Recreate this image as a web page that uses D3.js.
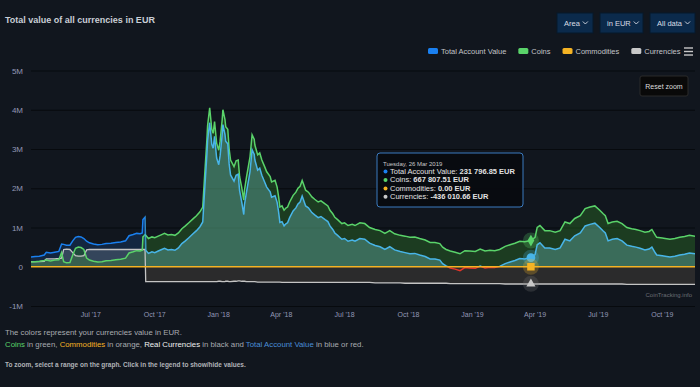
<!DOCTYPE html>
<html>
<head>
<meta charset="utf-8">
<script src="https://d3js.org/d3.v7.min.js"></script>
<style>
  body { margin: 0; background: #11161e; }
  svg { display: block; font-family: "Liberation Sans", Arial, sans-serif; }
</style>
</head>
<body>
<div id="chart"></div>
<script>
// ---- data (values in millions of EUR) ----
var dates = [
  "2017-04-06","2017-04-12","2017-04-18","2017-04-25","2017-04-28","2017-05-04","2017-05-10","2017-05-16","2017-05-20","2017-05-23",
  "2017-05-27","2017-06-01","2017-06-05","2017-06-09","2017-06-13","2017-06-17","2017-06-21","2017-06-25","2017-06-29","2017-07-05",
  "2017-07-11","2017-07-17","2017-07-23","2017-07-30","2017-08-06","2017-08-13","2017-08-20","2017-08-25","2017-08-31","2017-09-05",
  "2017-09-10","2017-09-13","2017-09-14","2017-09-15","2017-09-17","2017-09-18","2017-09-22","2017-09-27","2017-10-01","2017-10-06",
  "2017-10-11","2017-10-15","2017-10-20","2017-10-25","2017-10-30","2017-11-04","2017-11-09","2017-11-14","2017-11-19","2017-11-25",
  "2017-11-30","2017-12-05","2017-12-09","2017-12-12","2017-12-15","2017-12-16","2017-12-19","2017-12-22","2017-12-24","2017-12-26",
  "2017-12-29","2018-01-01","2018-01-03","2018-01-06","2018-01-07","2018-01-10","2018-01-11","2018-01-14","2018-01-16","2018-01-18",
  "2018-01-23","2018-01-26","2018-01-29","2018-01-31","2018-02-03","2018-02-06","2018-02-07","2018-02-10","2018-02-15","2018-02-18",
  "2018-02-21","2018-02-22","2018-02-26","2018-03-01","2018-03-04","2018-03-08","2018-03-11","2018-03-16","2018-03-18","2018-03-23",
  "2018-03-26","2018-03-28","2018-03-30","2018-04-02","2018-04-05","2018-04-08","2018-04-10","2018-04-13","2018-04-18","2018-04-22",
  "2018-04-25","2018-04-28","2018-05-01","2018-05-03","2018-05-06","2018-05-10","2018-05-15","2018-05-19","2018-05-24","2018-05-28",
  "2018-06-03","2018-06-07","2018-06-10","2018-06-14","2018-06-17","2018-06-21","2018-06-27","2018-07-01","2018-07-06","2018-07-12",
  "2018-07-16","2018-07-23","2018-07-30","2018-08-06","2018-08-14","2018-08-21","2018-08-28","2018-09-04","2018-09-11","2018-09-19",
  "2018-09-26","2018-10-03","2018-10-10","2018-10-17","2018-10-25","2018-11-01","2018-11-08","2018-11-15","2018-11-19","2018-11-24",
  "2018-11-30","2018-12-07","2018-12-14","2018-12-21","2018-12-28","2019-01-05","2019-01-12","2019-01-19","2019-01-26","2019-02-02",
  "2019-02-09","2019-02-17","2019-02-24","2019-03-03","2019-03-10","2019-03-17","2019-03-26","2019-04-01","2019-04-04","2019-04-08",
  "2019-04-15","2019-04-22","2019-04-30","2019-05-07","2019-05-14","2019-05-21","2019-05-28","2019-06-05","2019-06-12","2019-06-19",
  "2019-06-26","2019-07-03","2019-07-08","2019-07-11","2019-07-15","2019-07-21","2019-07-28","2019-08-04","2019-08-11","2019-08-18",
  "2019-08-24","2019-08-30","2019-09-06","2019-09-12","2019-09-16","2019-09-21","2019-09-23","2019-10-01","2019-10-05","2019-10-12",
  "2019-10-19","2019-10-26","2019-11-02","2019-11-09","2019-11-17"
];

var coins = [
  .12,.13,.14,.16,.17,.15,.17,.18,.36,.13,
  .10,.11,.30,.47,.50,.49,.44,.22,.17,.14,
  .12,.13,.15,.16,.18,.19,.22,.35,.38,.41,
  .40,.42,.76,.78,.82,.80,.72,.76,.74,.78,
  .82,.85,.81,.82,.80,.86,.97,1.04,1.12,1.22,
  1.30,1.40,1.52,2.40,3.25,3.60,4.05,3.50,3.40,3.70,
  3.15,2.97,3.20,3.75,4.00,3.75,3.57,3.50,3.00,2.72,
  2.55,2.70,2.72,2.30,2.03,1.70,1.95,2.29,2.80,3.36,
  3.25,3.10,2.85,2.90,2.72,2.55,2.42,2.30,2.16,2.20,
  2.03,1.80,1.52,1.55,1.44,1.50,1.52,1.65,1.82,1.90,
  2.00,2.05,2.20,2.10,1.95,1.90,1.78,1.72,1.65,1.68,
  1.60,1.55,1.44,1.35,1.26,1.20,1.10,1.12,1.05,1.08,
  1.05,1.12,1.10,1.00,.95,.92,.85,.92,.84,.80,
  .78,.75,.76,.72,.68,.62,.62,.59,.50,.44,
  .40,.37,.33,.41,.40,.39,.45,.40,.42,.41,
  .44,.52,.56,.60,.65,.64,.668,.75,1.00,1.05,
  .92,.92,.88,.92,1.14,1.10,1.23,1.30,1.48,1.52,
  1.55,1.44,1.35,1.30,1.10,1.14,1.16,1.10,1.00,.97,
  .95,.92,.88,.90,.95,.80,.75,.73,.72,.70,
  .72,.75,.77,.80,.78
];

var currencies = [
  .13,.13,.13,.14,.20,.20,.20,.21,.22,.44,
  .45,.44,.36,.28,.27,.27,.28,.43,.44,.44,
  .44,.44,.44,.44,.44,.44,.44,.44,.44,.44,
  .44,.44,.44,.44,.44,-.38,-.38,-.38,-.38,-.38,
  -.38,-.38,-.38,-.38,-.38,-.38,-.38,-.38,-.38,-.38,
  -.38,-.38,-.38,-.38,-.38,-.38,-.38,-.38,-.38,-.38,
  -.38,-.37,-.37,-.38,-.38,-.38,-.37,-.37,-.38,-.38,
  -.37,-.37,-.36,-.36,-.37,-.37,-.37,-.38,-.38,-.38,
  -.38,-.38,-.39,-.39,-.39,-.39,-.39,-.39,-.39,-.39,
  -.39,-.39,-.39,-.40,-.40,-.40,-.40,-.40,-.40,-.40,
  -.40,-.40,-.40,-.40,-.40,-.40,-.40,-.40,-.40,-.40,
  -.40,-.40,-.40,-.40,-.40,-.40,-.40,-.40,-.40,-.40,
  -.40,-.40,-.40,-.40,-.41,-.41,-.41,-.41,-.41,-.41,
  -.42,-.42,-.42,-.42,-.42,-.42,-.42,-.42,-.42,-.42,
  -.43,-.43,-.43,-.43,-.43,-.43,-.43,-.43,-.43,-.43,
  -.43,-.44,-.44,-.44,-.44,-.44,-.436,-.44,-.44,-.44,
  -.44,-.44,-.44,-.44,-.44,-.44,-.44,-.44,-.44,-.44,
  -.44,-.44,-.44,-.44,-.44,-.44,-.44,-.44,-.45,-.45,
  -.45,-.45,-.45,-.45,-.45,-.45,-.45,-.45,-.45,-.45,
  -.45,-.45,-.45,-.45,-.45
];

var account = [
  .25,.26,.27,.30,.37,.35,.37,.39,.58,.57,
  .55,.55,.66,.75,.77,.76,.72,.65,.61,.58,
  .56,.57,.59,.60,.62,.63,.66,.79,.82,.85,
  .84,.86,1.20,1.22,1.26,.42,.34,.38,.36,.40,
  .44,.47,.43,.44,.42,.48,.59,.66,.74,.84,
  .92,1.02,1.14,2.02,2.87,3.22,3.67,3.12,3.02,3.32,
  2.77,2.60,2.83,3.37,3.62,3.37,3.20,3.13,2.62,2.34,
  2.18,2.33,2.36,1.94,1.66,1.33,1.58,1.91,2.42,2.98,
  2.87,2.72,2.46,2.51,2.33,2.16,2.03,1.91,1.77,1.81,
  1.64,1.41,1.13,1.15,1.04,1.10,1.12,1.25,1.42,1.50,
  1.60,1.65,1.80,1.70,1.55,1.50,1.38,1.32,1.25,1.28,
  1.20,1.15,1.04,.95,.86,.80,.70,.72,.65,.68,
  .65,.72,.70,.60,.54,.51,.44,.51,.43,.39,
  .36,.33,.34,.30,.26,.20,.20,.17,.08,.02,
  -.03,-.06,-.10,-.02,-.03,-.04,.02,-.03,-.01,-.02,
  .01,.08,.12,.16,.21,.20,.232,.31,.56,.61,
  .48,.48,.44,.48,.70,.66,.79,.86,1.04,1.08,
  1.11,1.00,.91,.86,.66,.70,.72,.66,.55,.52,
  .50,.47,.43,.45,.50,.35,.30,.28,.27,.25,
  .27,.30,.32,.35,.33
];

var commodityDates = ["2017-04-06", "2019-11-17"];
var commodities = [0, 0];

var yTicks = [-1, 0, 1, 2, 3, 4, 5];
var yTickLabels = ["-1M", "0", "1M", "2M", "3M", "4M", "5M"];

var seriesNames = ["Total Account Value", "Coins", "Commodities", "Currencies"];
var seriesColors = ["#1a80f0", "#5ad36a", "#f5b324", "#c8c8c8"];

var buttonLabels = ["Area", "in EUR", "All data"];

var hoverDate = "2019-03-26";
var tooltipTitle = "Tuesday, 26 Mar 2019";
var tooltipValues = ["231 796.85 EUR", "667 807.51 EUR", "0.00 EUR", "-436 010.66 EUR"];

// the account line changes from blue to light blue here
var cutoff = new Date(2017, 8, 17, 12);


// ---- chart ----
// plot box (note: "top" is taken by window.top, so use other names)
var W = 700, H = 387,
	plotLeft = 31, plotRight = 695, plotTop = 62, plotBottom = 306,
	parse = d3.timeParse("%Y-%m-%d");

var rows = dates.map(function (d, i) {
	return { date: parse(d), c: coins[i], r: currencies[i], a: account[i] }
});
var comRows = commodityDates.map(function (d, i) {
	return { date: parse(d), v: commodities[i] }
});

var x = d3.scaleTime()
	.domain([rows[0].date, rows[rows.length - 1].date])
	.range([plotLeft, plotRight]);

var y = d3.scaleLinear()
	.domain([-1, 5])
	.range([306, 70.5]);

var svg = d3.select("#chart").append("svg")
	.attr("width", W)
	.attr("height", H);

svg.append("rect").attr("width", W).attr("height", H).attr("fill", "#11161e");

// clip paths
var defs = svg.append("defs");
function clip(id, x0, y0, x1, y1) {
	defs.append("clipPath").attr("id", id)
		.append("rect").attr("x", x0).attr("y", y0).attr("width", x1 - x0).attr("height", y1 - y0);
	return "url(#" + id + ")";
}
var xc = x(cutoff), yZero = y(0);
var plotClip = clip("plot", plotLeft, plotTop, plotRight, plotBottom + 4),
	preClip = clip("pre", 0, 0, xc, H),
	postClip = clip("post", xc, 0, W, H),
	posClip = clip("pos", 0, 0, W, yZero),
	negClip = clip("neg", 0, yZero, W, H);

// title
svg.append("text")
	.attr("x", 5).attr("y", 23)
	.attr("fill", "#c9ced6")
	.attr("font-weight", "bold")
	.style("font-size", "9px")
	.text("Total value of all currencies in EUR");

// buttons on top right
var bx = [557, 600, 650], bw = [36, 43, 45];
buttonLabels.forEach(function (b, i) {
	var g = svg.append("g").attr("transform", "translate(" + bx[i] + ",13)");
	g.append("rect").attr("width", bw[i]).attr("height", 20)
		.attr("fill", "#0b2a4b").attr("stroke", "#07182b");
	var t = g.append("text").attr("x", 7).attr("y", 13)
		.attr("fill", "#d8dde5").style("font-size", "7.5px").text(b);
	var tw = t.node().getComputedTextLength() + 10;
	g.append("path")
		.attr("d", "M" + tw + ",8.5 l2.5,2.5 l2.5,-2.5")
		.attr("fill", "none").attr("stroke", "#d8dde5").attr("stroke-width", 0.9);
});

// grid
svg.append("g").selectAll("line")
	.data(yTicks).enter().append("line")
	.attr("x1", plotLeft).attr("x2", plotRight)
	.attr("y1", function (d) { return y(d) + 0.5 })
	.attr("y2", function (d) { return y(d) + 0.5 })
	.attr("stroke", "#070a0e");

// y labels
svg.append("g").selectAll("text")
	.data(yTicks).enter().append("text")
	.attr("x", 23).attr("y", function (d) { return y(d) + 3 })
	.attr("text-anchor", "end")
	.attr("fill", "#9398b6")
	.style("font-size", "8px")
	.text(function (d, i) { return yTickLabels[i] });

// x labels
svg.append("g").selectAll("text")
	.data(x.ticks(d3.timeMonth.every(3))).enter().append("text")
	.attr("x", function (d) { return x(d) })
	.attr("y", 316.5)
	.attr("text-anchor", "middle")
	.attr("fill", "#9398b6")
	.style("font-size", "7px")
	.text(d3.timeFormat("%b '%y"));

// area / line generators
function areaOf(key) {
	return d3.area()
		.x(function (d) { return x(d.date) })
		.y0(yZero)
		.y1(function (d) { return y(d[key]) });
}
function lineOf(key) {
	return d3.line()
		.x(function (d) { return x(d.date) })
		.y(function (d) { return y(d[key]) });
}

var plot = svg.append("g").attr("clip-path", plotClip);

// account fill before the cutoff (blue)
plot.append("g").attr("clip-path", preClip)
	.append("path").attr("d", areaOf("a")(rows))
	.attr("fill", "rgba(30,127,240,0.16)");

// currencies fill, light above zero and dark below
plot.append("g").attr("clip-path", posClip)
	.append("path").attr("d", areaOf("r")(rows))
	.attr("fill", "rgba(205,210,215,0.18)");
plot.append("g").attr("clip-path", negClip)
	.append("path").attr("d", areaOf("r")(rows))
	.attr("fill", "#2b2b2c");

// coins fill
plot.append("path").attr("d", areaOf("c")(rows))
	.attr("fill", "rgba(65,174,44,0.25)");

// account fill after the cutoff (teal)
plot.append("g").attr("clip-path", postClip)
	.append("g").attr("clip-path", posClip)
	.append("path").attr("d", areaOf("a")(rows))
	.attr("fill", "rgba(115,194,190,0.36)");

// lines
plot.append("path").attr("d", lineOf("r")(rows))
	.attr("fill", "none").attr("stroke", "#c4c4c4").attr("stroke-width", 1.3);

plot.append("path").attr("d", lineOf("c")(rows))
	.attr("fill", "none").attr("stroke", "#5ad36a").attr("stroke-width", 1.5);

plot.append("g").attr("clip-path", preClip)
	.append("path").attr("d", lineOf("a")(rows))
	.attr("fill", "none").attr("stroke", "#1a80f0").attr("stroke-width", 1.5);
var post = plot.append("g").attr("clip-path", postClip);
post.append("g").attr("clip-path", posClip)
	.append("path").attr("d", lineOf("a")(rows))
	.attr("fill", "none").attr("stroke", "#48b5e8").attr("stroke-width", 1.5);
post.append("g").attr("clip-path", negClip)
	.append("path").attr("d", lineOf("a")(rows))
	.attr("fill", "none").attr("stroke", "#e5352a").attr("stroke-width", 1.5);

plot.append("path").attr("d", d3.line()
		.x(function (d) { return x(d.date) })
		.y(function (d) { return y(d.v) })(comRows))
	.attr("fill", "none").attr("stroke", "#f5b324").attr("stroke-width", 1.5);

// hover markers
var hp = rows.find(function (d) { return +d.date === +parse(hoverDate) });
var hx = x(hp.date);
var markers = [
	{ v: hp.a, color: "#48b5e8", sym: d3.symbolCircle, size: 60, halo: "#48b5e8" },
	{ v: hp.c, color: "#5ad36a", sym: d3.symbolDiamond, size: 40, halo: "#5ad36a" },
	{ v: 0, color: "#f5b324", sym: d3.symbolSquare, size: 56, halo: "#f5b324" },
	{ v: hp.r, color: "#c8c8c8", sym: d3.symbolTriangle, size: 36, halo: "#777" }
];
markers.forEach(function (m) {
	svg.append("circle").attr("cx", hx).attr("cy", y(m.v)).attr("r", 8)
		.attr("fill", m.halo).attr("opacity", 0.25);
	svg.append("path").attr("d", d3.symbol().type(m.sym).size(m.size)())
		.attr("transform", "translate(" + hx + "," + y(m.v) + ")")
		.attr("fill", m.color);
});

// legend
var lx = 428;
seriesNames.forEach(function (n, i) {
	svg.append("rect").attr("x", lx).attr("y", 48).attr("width", 10).attr("height", 6).attr("rx", 1.5)
		.attr("fill", seriesColors[i]);
	var t = svg.append("text").attr("x", lx + 13).attr("y", 54)
		.attr("fill", "#c2c4c8").style("font-size", "7.5px").text(n);
	lx += 13 + t.node().getComputedTextLength() + 12;
});
// context menu icon
[48, 51.5, 55].forEach(function (yy) {
	svg.append("line").attr("x1", 684).attr("x2", 693).attr("y1", yy).attr("y2", yy)
		.attr("stroke", "#c8c8c8").attr("stroke-width", 1.4);
});

// reset zoom button
svg.append("rect").attr("x", 640).attr("y", 76).attr("width", 48).attr("height", 20).attr("rx", 2)
	.attr("fill", "#090909").attr("stroke", "#2a2a2a");
svg.append("text").attr("x", 664).attr("y", 88.5).attr("text-anchor", "middle")
	.attr("fill", "#dddddd").style("font-size", "7px").text("Reset zoom");

// tooltip
var tip = svg.append("g").attr("transform", "translate(377,153)");
tip.append("rect").attr("width", 146).attr("height", 54).attr("rx", 3)
	.attr("fill", "rgba(8,11,16,0.95)").attr("stroke", "#3b7bbf");
tip.append("text").attr("x", 6).attr("y", 12.5)
	.attr("fill", "#c8c8c8").style("font-size", "6px").text(tooltipTitle);
var tipColors = ["#1a80f0", "#5ad36a", "#f5b324", "#c8c8c8"];
seriesNames.forEach(function (n, i) {
	var ty = 21 + i * 8.4;
	tip.append("circle").attr("cx", 8.5).attr("cy", ty - 2.4).attr("r", 2).attr("fill", tipColors[i]);
	var t = tip.append("text").attr("x", 13).attr("y", ty)
		.attr("fill", "#e2e2e2").style("font-size", "7.5px");
	t.append("tspan").text(n + ": ");
	t.append("tspan").attr("font-weight", "bold").text(tooltipValues[i]);
});

// credit
svg.append("text").attr("x", 692).attr("y", 297).attr("text-anchor", "end")
	.attr("fill", "#6a6e75").style("font-size", "6px").text("CoinTracking.info");

// notes below the chart
svg.append("text").attr("x", 5).attr("y", 335)
	.attr("fill", "#a8abb0").style("font-size", "7.8px")
	.text("The colors represent your currencies value in EUR.");
var note = svg.append("text").attr("x", 5).attr("y", 347)
	.attr("fill", "#a8abb0").style("font-size", "7.8px");
[["Coins", "#5ad36a"], [" in green, ", null], ["Commodities", "#f5b324"], [" in orange, ", null],
 ["Real Currencies", "#f0f0f0"], [" in black and ", null], ["Total Account Value", "#4a8ed8"],
 [" in blue or red.", null]].forEach(function (p) {
	var s = note.append("tspan").text(p[0]);
	if (p[1]) s.attr("fill", p[1]);
});
svg.append("text").attr("x", 5).attr("y", 367)
	.attr("fill", "#b0b3b8").style("font-size", "6.5px").attr("font-weight", "bold")
	.text("To zoom, select a range on the graph. Click in the legend to show/hide values.");
</script>
</body>
</html>
